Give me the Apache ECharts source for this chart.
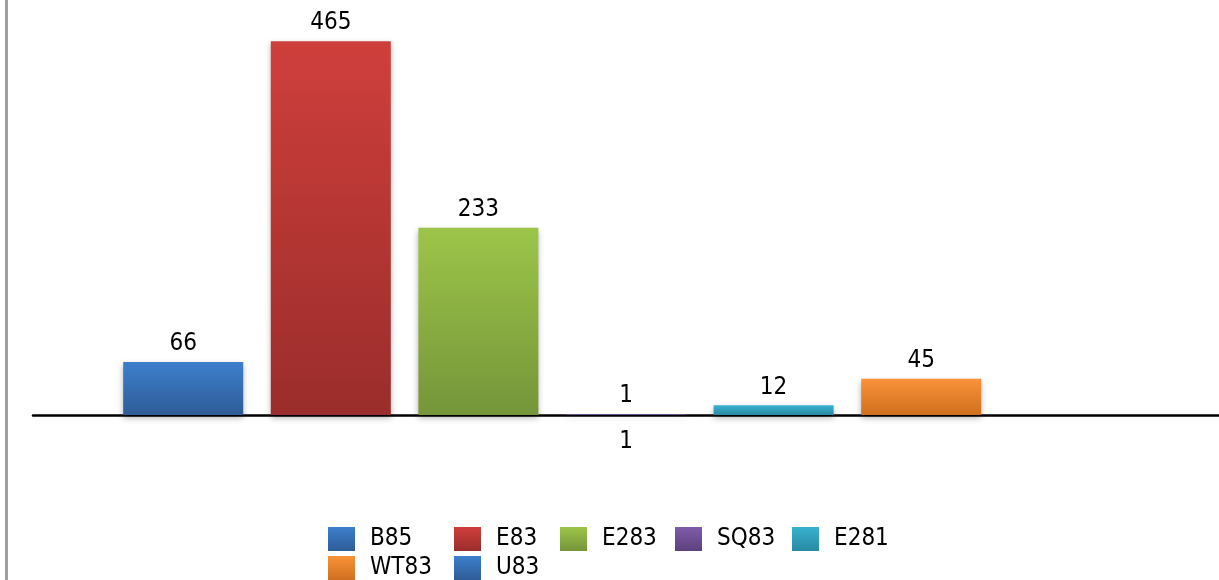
<!DOCTYPE html>
<html><head><meta charset="utf-8">
<script src="https://cdn.jsdelivr.net/npm/echarts@6/dist/echarts.min.js"></script>
<style>html,body{margin:0;padding:0;background:#fff}#c{width:1219px;height:580px}</style>
</head><body><div id="c"></div>
<script>
const categories = ['1'];
const seriesNames = ['B85','E83','E283','SQ83','E281','WT83','U83'];
const seriesValues = [66, 465, 233, 1, 12, 45, null];
const topColors = ['#3d7fcd','#cf3f3c','#9dc549','#7f5ba8','#37b2d0','#fa9339','#3d7fcd'];
const bottomColors = ['#2e5c97','#9a2d2b','#75953a','#5d427e','#2a89a2','#cf6f1f','#2e5c97'];

const font = '"DejaVu Sans Condensed","DejaVu Sans",sans-serif';
const legendPos = [[328,527],[454,527],[560,527],[675,527],[792,527],[328,556],[454,556]];
const chart = echarts.init(document.getElementById('c'));
chart.setOption({
  animation:false,
  textStyle:{fontFamily:font},
  grid:{left:33,right:0,top:13,bottom:165},
  xAxis:{type:'category',data:categories,
    axisLine:{lineStyle:{color:'#000',width:2.5}},
    axisTick:{show:false},
    axisLabel:{color:'#000',fontSize:24,margin:15,fontFamily:font}},
  yAxis:{type:'value',min:0,max:500,show:false},
  legend: seriesNames.map((n,i)=>({
    left:legendPos[i][0],top:legendPos[i][1],padding:0,
    itemWidth:27,itemHeight:24,icon:'rect',
    textStyle:{fontSize:24,color:'#000',fontFamily:font,padding:[0,0,0,10]},
    data:[n]})),
  graphic:[{type:'rect',shape:{x:5,y:0,width:3,height:580},style:{fill:'#a0a0a0'}}],
  series: seriesNames.map((n,i)=>({
    name:n,type:'bar',barWidth:120,barGap:'23%',
    data:[seriesValues[i]],
    itemStyle:{color:new echarts.graphic.LinearGradient(0,0,0,1,[{offset:0,color:topColors[i]},{offset:1,color:bottomColors[i]}]),
      shadowColor:'rgba(0,0,0,0.3)',shadowBlur:6,shadowOffsetY:3},
    label:{show:true,position:'top',distance:6,color:'#000',fontSize:24,fontFamily:font}
  }))
});
</script></body></html>
